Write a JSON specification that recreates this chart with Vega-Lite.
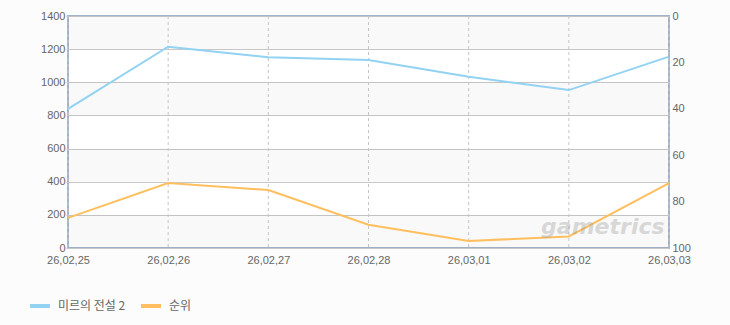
{
  "$schema": "https://vega.github.io/schema/vega-lite/v6.json",
  "width": 601,
  "height": 232,
  "autosize": {"type": "none"},
  "padding": {"left": 68, "top": 16, "right": 61, "bottom": 77},
  "background": "#fcfcfc",
  "config": {
    "view": {"stroke": "#a3b5ca", "strokeWidth": 2, "fill": "#ffffff"},
    "font": "Liberation Sans",
    "axis": {"labelFont": "Liberation Sans", "labelFontSize": 11, "labelColor": "#666666", "titleColor": "#666666"},
    "legend": {"labelFont": "Noto Sans CJK KR", "labelFontSize": 12, "labelColor": "#666666"}
  },
  "datasets": {
    "series": [
      {"date": "26,02,25", "mir": 839, "rank": 87},
      {"date": "26,02,26", "mir": 1215, "rank": 72},
      {"date": "26,02,27", "mir": 1151, "rank": 75},
      {"date": "26,02,28", "mir": 1134, "rank": 90},
      {"date": "26,03,01", "mir": 1034, "rank": 97},
      {"date": "26,03,02", "mir": 953, "rank": 95},
      {"date": "26,03,03", "mir": 1155, "rank": 72}
    ],
    "bands": [
      {"lo": 0, "hi": 200},
      {"lo": 400, "hi": 600},
      {"lo": 800, "hi": 1000},
      {"lo": 1200, "hi": 1400}
    ],
    "mark": [
      {"date": "26,03,02", "v": 91, "label": "gametrics"}
    ]
  },
  "layer": [
    {
      "data": {"name": "bands"},
      "mark": {"type": "rect", "fill": "#000000", "opacity": 0.022},
      "encoding": {
        "y": {"field": "lo", "type": "quantitative", "scale": {"domain": [0, 1400]}, "axis": null},
        "y2": {"field": "hi"}
      }
    },
    {
      "data": {"name": "series"},
      "mark": {"type": "rule", "color": "#c6c6c6", "strokeDash": [3, 3], "strokeWidth": 1},
      "encoding": {
        "x": {"field": "date", "type": "ordinal", "scale": {"type": "point", "padding": 0}, "sort": null,
              "axis": {"title": null, "labelAngle": 0, "domain": false, "ticks": false, "labelPadding": 6, "grid": false}}
      }
    },
    {
      "data": {"name": "series"},
      "mark": {"type": "line", "strokeWidth": 2},
      "encoding": {
        "x": {"field": "date", "type": "ordinal", "scale": {"type": "point", "padding": 0}, "sort": null},
        "y": {"field": "mir", "type": "quantitative", "scale": {"domain": [0, 1400], "nice": false},
              "axis": {"title": null, "format": "d", "values": [0, 200, 400, 600, 800, 1000, 1200, 1400], "grid": true, "gridColor": "#c8c8c8", "gridWidth": 1, "domain": false, "ticks": true, "tickSize": 2, "tickColor": "#c8c8c8", "labelPadding": 1}},
        "color": {"datum": "미르의 전설 2", "type": "nominal",
                  "scale": {"domain": ["미르의 전설 2", "순위"], "range": ["#92d2f2", "#ffbf5e"]},
                  "legend": {"title": null, "orient": "none", "direction": "horizontal", "legendX": -40, "legendY": 278, "symbolType": "stroke", "symbolStrokeWidth": 4, "symbolSize": 400, "columnPadding": 7, "labelOffset": 6}}
      }
    },
    {
      "data": {"name": "series"},
      "mark": {"type": "line", "strokeWidth": 2},
      "encoding": {
        "x": {"field": "date", "type": "ordinal", "scale": {"type": "point", "padding": 0}, "sort": null},
        "y": {"field": "rank", "type": "quantitative", "scale": {"domain": [0, 100], "reverse": true, "nice": false},
              "axis": {"title": null, "orient": "right", "values": [0, 20, 40, 60, 80, 100], "grid": false, "domain": false, "ticks": false, "labelPadding": 3}},
        "color": {"datum": "순위", "type": "nominal"}
      }
    },
    {
      "data": {"name": "mark"},
      "mark": {"type": "text", "font": "DejaVu Sans", "fontStyle": "italic", "fontWeight": "bold", "fontSize": 22, "color": "#9a9a9a", "opacity": 0.35, "align": "center", "baseline": "middle", "dx": 34},
      "encoding": {
        "x": {"field": "date", "type": "ordinal", "scale": {"type": "point", "padding": 0}, "sort": null},
        "y": {"field": "v", "type": "quantitative", "scale": {"domain": [0, 100], "reverse": true, "nice": false}, "axis": null},
        "text": {"field": "label"}
      }
    }
  ],
  "resolve": {"scale": {"y": "independent"}}
}
